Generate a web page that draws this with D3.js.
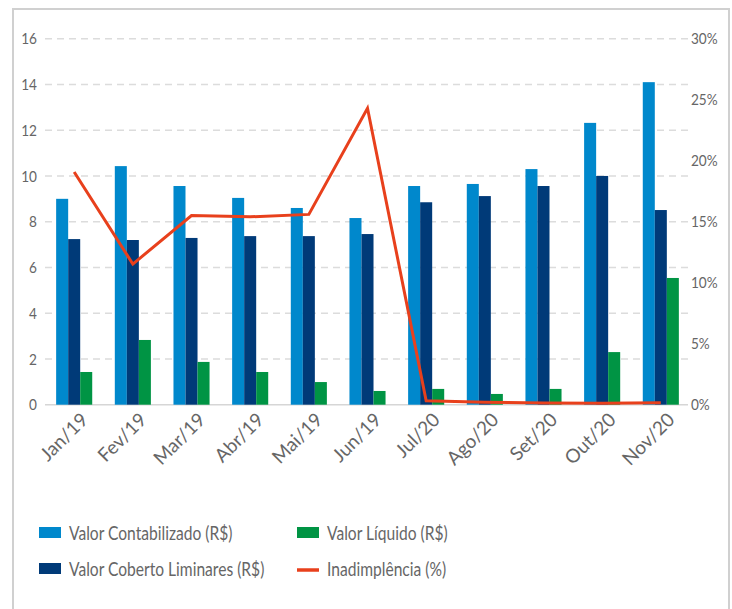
<!DOCTYPE html>
<html>
<head>
<meta charset="utf-8">
<script src="https://cdnjs.cloudflare.com/ajax/libs/d3/7.8.5/d3.min.js"></script>
<style type='text/css'>
  body { margin: 0; background: #fff; }
  svg text { font-family: Lato, "Open Sans", sans-serif; fill: #666; }
  .grid line { stroke: #dcdcdc; stroke-dasharray: 7,5; stroke-width: 1.5; }
</style>
</head>
<body>
<div id='chart'></div>
<script type='text/javascript'>
var months = ['Jan/19','Fev/19','Mar/19','Abr/19','Mai/19','Jun/19','Jul/20','Ago/20','Set/20','Out/20','Nov/20'];
var contabilizado = [9.0, 10.43, 9.56, 9.04, 8.6, 8.16, 9.56, 9.65, 10.3, 12.32, 14.1];
var coberto = [7.24, 7.2, 7.29, 7.37, 7.37, 7.46, 8.85, 9.12, 9.56, 10.0, 8.51];
var liquido = [1.43, 2.83, 1.87, 1.43, 0.99, 0.6, 0.69, 0.47, 0.69, 2.3, 5.54];
var inadimplencia = [19.07, 11.53, 15.5, 15.4, 15.6, 24.3, 0.33, 0.2, 0.14, 0.12, 0.15];
var leftTicks = [0, 2, 4, 6, 8, 10, 12, 14, 16];
var rightTicks = [0, 5, 10, 15, 20, 25, 30];

var series = [
  { name: 'Valor Contabilizado (R$)', values: contabilizado, color: '#0088cc' },
  { name: 'Valor Coberto Liminares (R$)', values: coberto, color: '#003a78' },
  { name: 'Valor Líquido (R$)', values: liquido, color: '#009444' }
];
var lineName = 'Inadimplência (%)';
var lineColor = '#e8401c';

var W = 732, H = 609;
var svg = d3.select('#chart').append('svg').attr('width', W).attr('height', H);

// frame
svg.append('rect').attr('x', 13).attr('y', 9).attr('width', 716).attr('height', 620)
  .attr('fill', 'none').attr('stroke', '#d0d0d0').attr('stroke-width', 2);

var x = d3.scaleBand().domain(months).range([45, 690]).paddingInner(0.385).paddingOuter(0.19);
var xs = d3.scaleBand().domain(d3.range(series.length)).range([0, x.bandwidth()]);
var y = d3.scaleLinear().domain([0, 16]).range([404.7, 38.7]);
var y2 = d3.scaleLinear().domain([0, 30]).range([404.7, 38.7]);

// grid
svg.append('g').attr('class', 'grid').selectAll('line').data(leftTicks.slice(1)).enter()
  .append('line').attr('x1', 45).attr('x2', 688)
  .attr('y1', function(d) { return y(d); }).attr('y2', function(d) { return y(d); });
svg.append('line').attr('x1', 45).attr('x2', 688).attr('y1', y(0)).attr('y2', y(0))
  .attr('stroke', '#d6d6d6').attr('stroke-width', 1.5);

var sx = 0.85; // the reference text is a little narrow

// left axis
var yAxis = svg.append('g').attr('transform', 'translate(45,0)')
  .call(d3.axisLeft(y).tickValues(leftTicks).tickSize(0).tickPadding(8));
yAxis.select('.domain').remove();
yAxis.selectAll('text').style('font-size', '16px').style('font-family', null).attr('fill', '#666')
  .attr('x', -8 / sx).attr('transform', 'scale(' + sx + ',1)');

// right axis
var yAxis2 = svg.append('g').attr('transform', 'translate(688,0)')
  .call(d3.axisRight(y2).tickValues(rightTicks).tickSize(0).tickPadding(3)
    .tickFormat(function(d) { return d + '%'; }));
yAxis2.select('.domain').remove();
yAxis2.selectAll('text').style('font-size', '16px').style('font-family', null).attr('fill', '#666')
  .attr('x', 3 / sx).attr('transform', 'scale(' + sx + ',1)');

// bars
series.forEach(function(s, si) {
  svg.append('g').selectAll('rect').data(s.values).enter().append('rect')
    .attr('x', function(d, i) { return x(months[i]) + xs(si); })
    .attr('width', xs.bandwidth())
    .attr('y', function(d) { return y(d); })
    .attr('height', function(d) { return y(0) - y(d); })
    .attr('fill', s.color);
});

// line
var line = d3.line()
  .x(function(d, i) { return x(months[i]) + x.bandwidth() / 2; })
  .y(function(d) { return y2(d); });
svg.append('path').datum(inadimplencia).attr('d', line)
  .attr('fill', 'none').attr('stroke', lineColor).attr('stroke-width', 3)
  .attr('stroke-linejoin', 'miter');

// x labels
svg.append('g').selectAll('text').data(months).enter().append('text')
  .attr('transform', function(d) {
    return 'translate(' + (x(d) + x.bandwidth() / 2 + 15) + ',421) rotate(-45)';
  })
  .attr('text-anchor', 'end')
  .style('font-size', '19px')
  .text(function(d) { return d; });

// legend
var legendItems = [
  { name: series[0].name, color: series[0].color, type: 'rect', x: 39, y: 527 },
  { name: series[1].name, color: series[1].color, type: 'rect', x: 39, y: 563 },
  { name: series[2].name, color: series[2].color, type: 'rect', x: 297, y: 527 },
  { name: lineName, color: lineColor, type: 'line', x: 297, y: 563 }
];
var lg = svg.append('g').selectAll('g').data(legendItems).enter().append('g')
  .attr('transform', function(d) { return 'translate(' + d.x + ',' + d.y + ')'; });
lg.filter(function(d) { return d.type === 'rect'; }).append('rect')
  .attr('width', 22).attr('height', 11).attr('fill', function(d) { return d.color; });
lg.filter(function(d) { return d.type === 'line'; }).append('line')
  .attr('x1', 0).attr('x2', 22).attr('y1', 7).attr('y2', 7)
  .attr('stroke', function(d) { return d.color; }).attr('stroke-width', 3.5);
lg.append('text').attr('transform', 'translate(30,13) scale(0.78,1)')
  .style('font-size', '20px').attr('fill', '#555')
  .text(function(d) { return d.name; });
</script>
</body>
</html>
